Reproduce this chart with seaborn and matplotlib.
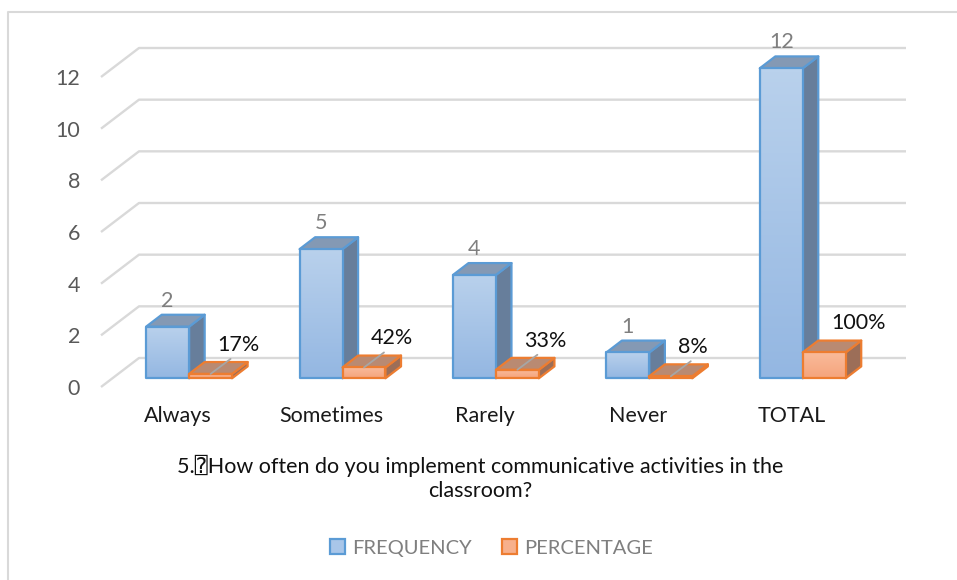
import numpy as np
import pandas as pd
import matplotlib
matplotlib.use("Agg")
import matplotlib.pyplot as plt
from matplotlib.patches import Polygon, Patch, Rectangle
from matplotlib.colors import LinearSegmentedColormap
import seaborn as sns

# ---- data -------------------------------------------------------------
categories = ["Always", "Sometimes", "Rarely", "Never", "TOTAL"]
frequency = [2, 5, 4, 1, 12]
percentage = [0.17, 0.42, 0.33, 0.08, 1.00]
percent_labels = ["17%", "42%", "33%", "8%", "100%"]
series_names = ["FREQUENCY", "PERCENTAGE"]
y_ticks = [0, 2, 4, 6, 8, 10, 12]
title = "5.\u2370How often do you implement communicative activities in the\nclassroom?"

# ---- style ------------------------------------------------------------
sns.set_theme(style="white")
plt.rcParams["font.family"] = ["Lato", "DejaVu Sans", "DejaVu Sans Mono"]
FS = 15.5

BLUE_EDGE, BLUE_LIGHT, BLUE_DARK = "#5b9bd5", "#b9d1ec", "#94b7e2"
BLUE_TOP, BLUE_SIDE = "#8499b4", "#677e9b"
ORANGE_EDGE, ORANGE_LIGHT, ORANGE_DARK = "#ed7d31", "#f9bb9b", "#f5a47c"
ORANGE_TOP, ORANGE_SIDE = "#b98a72", "#9c6e58"
GRID = "#d9d9d9"

W, H = 957, 580
fig = plt.figure(figsize=(W / 100, H / 100), dpi=100)
fig.patch.set_facecolor("white")

# front plane of the plot box (pixels)
FL, FR, FB, FT = 101, 868, 387, 77
ax = fig.add_axes([FL / W, 1 - FB / H, (FR - FL) / W, (FB - FT) / H])

df = pd.DataFrame({
    "category": categories * 2,
    "series": [series_names[0]] * len(categories) + [series_names[1]] * len(categories),
    "value": frequency + percentage,
})

sns.barplot(data=df, x="category", y="value", hue="series", order=categories,
            hue_order=series_names, palette=[BLUE_LIGHT, ORANGE_LIGHT],
            width=0.56, gap=0, dodge=True, legend=False, errorbar=None, ax=ax)

ax.set_xlim(-0.5, len(categories) - 0.5)
ax.set_ylim(y_ticks[0], y_ticks[-1])

# depth of the 3-D floor expressed in data units
px_x = (FR - FL) / len(categories)
px_y = (FB - FT) / (y_ticks[-1] - y_ticks[0])
DX, DY = 38 / px_x, 29 / px_y
S0, S1 = 0.30, 0.71  # bars sit between these fractions of the floor depth

# side wall + back wall gridlines
x_left, x_right = ax.get_xlim()
for y in y_ticks:
    ax.plot([x_left, x_left + DX, x_right + DX], [y, y + DY, y + DY],
            color=GRID, lw=1.7, clip_on=False, zorder=1, solid_capstyle="butt")

for s in ax.spines.values():
    s.set_visible(False)
ax.set_xlabel("")
ax.set_ylabel("")
ax.set_yticks(y_ticks)
ax.set_yticklabels([str(t) for t in y_ticks])
ax.tick_params(axis="y", length=0, pad=15, labelsize=FS, labelcolor="#595959")
ax.set_xticks(range(len(categories)))
ax.set_xticklabels(categories)
ax.tick_params(axis="x", length=0, pad=14, labelsize=FS, labelcolor="#1a1a1a")

blue_map = LinearSegmentedColormap.from_list("b", [BLUE_DARK, BLUE_LIGHT])
orange_map = LinearSegmentedColormap.from_list("o", [ORANGE_DARK, ORANGE_LIGHT])
grad = np.linspace(0, 1, 64).reshape(-1, 1)

bars = sorted([p for p in ax.patches if isinstance(p, Rectangle)], key=lambda p: p.get_x())
px_to_pt = 72 / 100

for k, p in enumerate(bars):
    series_idx = k % 2
    cat_idx = k // 2
    edge = BLUE_EDGE if series_idx == 0 else ORANGE_EDGE
    top_c = BLUE_TOP if series_idx == 0 else ORANGE_TOP
    side_c = BLUE_SIDE if series_idx == 0 else ORANGE_SIDE
    cmap = blue_map if series_idx == 0 else orange_map

    x0, w, h = p.get_x(), p.get_width(), p.get_height()
    fx, fy = x0 + S0 * DX, S0 * DY
    ddx, ddy = (S1 - S0) * DX, (S1 - S0) * DY
    z = 3 + k

    side = Polygon([(fx + w, fy), (fx + w + ddx, fy + ddy),
                    (fx + w + ddx, fy + h + ddy), (fx + w, fy + h)],
                   closed=True, fc=side_c, ec=edge, lw=1.6, joinstyle="round",
                   zorder=z + 0.1, clip_on=False)
    top = Polygon([(fx, fy + h), (fx + w, fy + h),
                   (fx + w + ddx, fy + h + ddy), (fx + ddx, fy + h + ddy)],
                  closed=True, fc=top_c, ec=edge, lw=1.6, joinstyle="round",
                  zorder=z + 0.1, clip_on=False)
    ax.add_patch(side)
    ax.add_patch(top)

    im = ax.imshow(grad, extent=[fx, fx + w, fy, fy + h], origin="lower",
                   aspect="auto", cmap=cmap, interpolation="bilinear", zorder=z + 0.2)
    im.set_clip_on(False)

    p.set_x(fx)
    p.set_y(fy)
    p.set_facecolor("none")
    p.set_edgecolor(edge)
    p.set_linewidth(1.6)
    p.set_joinstyle("round")
    p.set_zorder(z + 0.3)
    p.set_clip_on(False)

    xc = fx + w / 2
    if series_idx == 0:
        ax.annotate(str(frequency[cat_idx]), xy=(xc, fy + h + ddy),
                    xytext=(0, 4 * px_to_pt), textcoords="offset points",
                    ha="center", va="bottom", fontsize=FS, color="#7f7f7f",
                    zorder=20, annotation_clip=False)
    else:
        if categories[cat_idx] != "TOTAL":
            ax.annotate("", xy=(xc, fy + h),
                        xytext=(20 * px_to_pt, 15 * px_to_pt), textcoords="offset points",
                        arrowprops=dict(arrowstyle="-", color="#a6a6a6", lw=1.3,
                                        shrinkA=0, shrinkB=0),
                        zorder=20, annotation_clip=False)
        ax.annotate(percent_labels[cat_idx], xy=(xc, fy + h),
                    xytext=(7 * px_to_pt, 29 * px_to_pt), textcoords="offset points",
                    ha="left", va="center", fontsize=FS, color="#111111",
                    zorder=20, annotation_clip=False)

ax.set_xlim(x_left, x_right)
ax.set_ylim(y_ticks[0], y_ticks[-1])

# title below the plot
fig.text(480 / W, 1 - 478 / H, title, ha="center", va="center",
         multialignment="center", fontsize=FS, color="#111111", linespacing=1.2)

# legend
handles = [Patch(facecolor="#a9c6e9", edgecolor=BLUE_EDGE, lw=1.6),
           Patch(facecolor="#f7b08c", edgecolor=ORANGE_EDGE, lw=1.6)]
fig.legend(handles, series_names, loc="center", bbox_to_anchor=(491 / W, 1 - 548 / H),
           ncol=2, frameon=False, fontsize=14.5, labelcolor="#7f7f7f",
           handlelength=0.75, handleheight=0.75, handletextpad=0.35, columnspacing=1.5)

# chart frame
fig.add_artist(plt.Line2D([8 / W, 8 / W, 1], [0, 1 - 12 / H, 1 - 12 / H],
                          transform=fig.transFigure, color=GRID, lw=1.5))

fig.savefig("out.png", dpi=100, facecolor="white")
